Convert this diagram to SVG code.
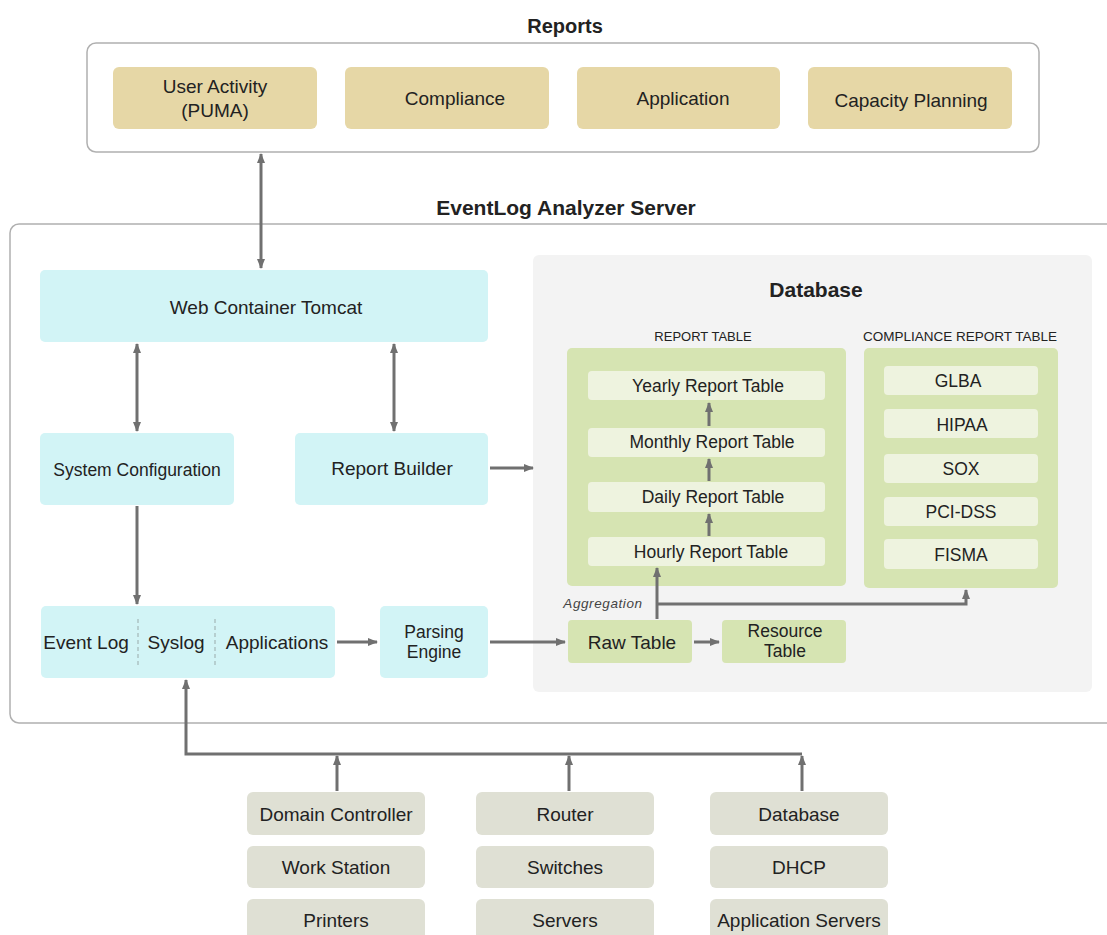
<svg xmlns="http://www.w3.org/2000/svg" width="1107" height="935" viewBox="0 0 1107 935">
<defs>
<marker id="ah" viewBox="0 0 10 10" refX="9" refY="5" markerWidth="10" markerHeight="10" markerUnits="userSpaceOnUse" orient="auto-start-reverse">
<path d="M0,1 L10,5 L0,9 z" fill="#707070"/>
</marker>
<style>
text{font-family:"Liberation Sans",Arial,sans-serif;fill:#222;text-anchor:middle}
.t{font-size:19px}
.m{font-size:17.5px}
.h{font-weight:bold}
.s{font-size:13px}
.rep{fill:#e6d7a6}
.cy{fill:#d2f4f6}
.gr{fill:#d6e4b2}
.lg{fill:#eef3df}
.dv{fill:#dfe0d4}
.c{stroke:#707070;stroke-width:3;fill:none}
.a{marker-end:url(#ah)}
.b{marker-start:url(#ah);marker-end:url(#ah)}
</style>
</defs>
<rect width="1107" height="935" fill="#fff"/>

<g id="reports">
<text class="h" x="565" y="33" style="font-size:20px">Reports</text>
<rect x="87" y="43" width="952" height="109" rx="9" fill="#fff" stroke="#b0b0b0" stroke-width="1.5"/>
</g>
<g id="rep-user"><rect class="rep" x="113" y="67" width="204" height="62" rx="6"/><text class="t" x="215" y="93">User Activity</text><text class="t" x="215" y="117">(PUMA)</text></g>
<g id="rep-compliance"><rect class="rep" x="345" y="67" width="204" height="62" rx="6"/><text class="t" x="455" y="105">Compliance</text></g>
<g id="rep-application"><rect class="rep" x="577" y="67" width="203" height="62" rx="6"/><text class="t" x="683" y="105">Application</text></g>
<g id="rep-capacity"><rect class="rep" x="808" y="67" width="204" height="62" rx="6"/><text class="t" x="911" y="107">Capacity Planning</text></g>

<g id="server">
<text class="h" x="566" y="215" style="font-size:21px">EventLog  Analyzer Server</text>
<rect x="10" y="224" width="1110" height="499" rx="9" fill="#fff" stroke="#b0b0b0" stroke-width="1.5"/>
</g>

<g id="database">
<rect x="533" y="255" width="559" height="437" rx="6" fill="#f3f3f3"/>
<text class="h" x="816" y="297" style="font-size:21px">Database</text>
<text class="s" x="703" y="341">REPORT TABLE</text>
<text class="s" x="960" y="341" style="font-size:13.5px">COMPLIANCE REPORT TABLE</text>
</g>

<g id="tomcat"><rect class="cy" x="40" y="270" width="448" height="72" rx="5"/><text class="t" x="266" y="314">Web Container Tomcat</text></g>
<g id="sysconfig"><rect class="cy" x="40" y="433" width="194" height="72" rx="5"/><text class="m" x="137" y="476">System Configuration</text></g>
<g id="reportbuilder"><rect class="cy" x="295" y="433" width="193" height="72" rx="5"/><text class="t" x="392" y="475">Report Builder</text></g>
<g id="sources">
<rect class="cy" x="41" y="606" width="294" height="72" rx="5"/>
<line x1="138" y1="619" x2="138" y2="666" stroke="#9aa" stroke-dasharray="4,3"/>
<line x1="215" y1="619" x2="215" y2="666" stroke="#9aa" stroke-dasharray="4,3"/>
<text class="t" x="86" y="649">Event Log</text>
<text class="t" x="176" y="649">Syslog</text>
<text class="t" x="277" y="649">Applications</text>
</g>
<g id="parsing"><rect class="cy" x="380" y="606" width="108" height="72" rx="5"/><text class="m" x="434" y="638">Parsing</text><text class="m" x="434" y="658">Engine</text></g>

<g id="reporttable">
<rect class="gr" x="567" y="348" width="279" height="238" rx="5"/>
</g>
<g id="yearly"><rect class="lg" x="588" y="371" width="237" height="29" rx="4"/><text class="m" x="708" y="392">Yearly Report Table</text></g>
<g id="monthly"><rect class="lg" x="588" y="428" width="237" height="29" rx="4"/><text class="m" x="712" y="448">Monthly Report Table</text></g>
<g id="daily"><rect class="lg" x="588" y="482" width="237" height="30" rx="4"/><text class="m" x="713" y="503">Daily Report Table</text></g>
<g id="hourly"><rect class="lg" x="588" y="537" width="237" height="29" rx="4"/><text class="m" x="711" y="558">Hourly Report Table</text></g>

<g id="compliancetable">
<rect class="gr" x="864" y="348" width="194" height="240" rx="5"/>
</g>
<g id="glba"><rect class="lg" x="884" y="366" width="154" height="29" rx="4"/><text class="m" x="958" y="387">GLBA</text></g>
<g id="hipaa"><rect class="lg" x="884" y="409" width="154" height="29" rx="4"/><text class="m" x="962" y="431">HIPAA</text></g>
<g id="sox"><rect class="lg" x="884" y="454" width="154" height="29" rx="4"/><text class="m" x="961" y="475">SOX</text></g>
<g id="pcidss"><rect class="lg" x="884" y="497" width="154" height="29" rx="4"/><text class="m" x="961" y="518">PCI-DSS</text></g>
<g id="fisma"><rect class="lg" x="884" y="539" width="154" height="30" rx="4"/><text class="m" x="961" y="561">FISMA</text></g>

<g id="aggregation"><text x="603" y="608" style="font-size:13.5px;font-style:italic;letter-spacing:0.6px;fill:#444">Aggregation</text></g>
<g id="rawtable"><rect class="gr" x="568" y="620" width="124" height="43" rx="4"/><text class="t" x="632" y="649">Raw Table</text></g>
<g id="resourcetable"><rect class="gr" x="722" y="620" width="124" height="43" rx="4"/><text class="m" x="785" y="637">Resource</text><text class="m" x="785" y="657">Table</text></g>

<g id="dev-dc"><rect class="dv" x="247" y="792" width="178" height="43" rx="6"/><text class="t" x="336" y="821">Domain Controller</text></g>
<g id="dev-ws"><rect class="dv" x="247" y="846" width="178" height="42" rx="6"/><text class="t" x="336" y="874">Work Station</text></g>
<g id="dev-pr"><rect class="dv" x="247" y="899" width="178" height="42" rx="6"/><text class="t" x="336" y="927">Printers</text></g>
<g id="dev-router"><rect class="dv" x="476" y="792" width="178" height="43" rx="6"/><text class="t" x="565" y="821">Router</text></g>
<g id="dev-sw"><rect class="dv" x="476" y="846" width="178" height="42" rx="6"/><text class="t" x="565" y="874">Switches</text></g>
<g id="dev-srv"><rect class="dv" x="476" y="899" width="178" height="42" rx="6"/><text class="t" x="565" y="927">Servers</text></g>
<g id="dev-db"><rect class="dv" x="710" y="792" width="178" height="43" rx="6"/><text class="t" x="799" y="821">Database</text></g>
<g id="dev-dhcp"><rect class="dv" x="710" y="846" width="178" height="42" rx="6"/><text class="t" x="799" y="874">DHCP</text></g>
<g id="dev-app"><rect class="dv" x="710" y="899" width="178" height="42" rx="6"/><text class="t" x="799" y="927">Application Servers</text></g>

<g id="connectors">
<line class="c b" x1="261" y1="154" x2="261" y2="268"/>
<line class="c b" x1="137" y1="344" x2="137" y2="431"/>
<line class="c b" x1="394" y1="344" x2="394" y2="431"/>
<line class="c a" x1="490" y1="468" x2="533" y2="468"/>
<line class="c a" x1="137" y1="506" x2="137" y2="604"/>
<line class="c a" x1="337" y1="642" x2="377" y2="642"/>
<line class="c a" x1="490" y1="642" x2="565" y2="642"/>
<line class="c a" x1="694" y1="642" x2="719" y2="642"/>
<line class="c a" x1="709" y1="426" x2="709" y2="403"/>
<line class="c a" x1="709" y1="481" x2="709" y2="459"/>
<line class="c a" x1="709" y1="536" x2="709" y2="514"/>
<line class="c a" x1="657" y1="619" x2="657" y2="568"/>
<polyline class="c a" points="657,604 966,604 966,590"/>
<polyline class="c a" points="802,754 186,754 186,680"/>
<line class="c a" x1="337" y1="791" x2="337" y2="756"/>
<line class="c a" x1="569" y1="791" x2="569" y2="756"/>
<line class="c a" x1="802" y1="791" x2="802" y2="756"/>
</g>
</svg>
